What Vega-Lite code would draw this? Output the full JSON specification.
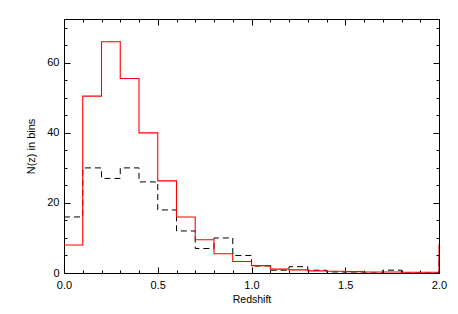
{
  "$schema": "https://vega.github.io/schema/vega-lite/v6.json",
  "width": 375,
  "height": 254,
  "autosize": "none",
  "padding": {"left": 64, "top": 19, "right": 19, "bottom": 41},
  "background": "white",
  "config": {
    "view": {"stroke": null},
    "axis": {
      "domainColor": "#000000",
      "domainWidth": 1,
      "tickColor": "#000000",
      "tickWidth": 1,
      "grid": false,
      "labelFont": "Liberation Sans",
      "titleFont": "Liberation Sans",
      "labelColor": "#000000",
      "titleColor": "#000000",
      "labelFontSize": 11,
      "titleFontSize": 10.5,
      "titleFontWeight": "normal",
      "labelFlush": false
    }
  },
  "data": {
    "values": [
      {"s": "red", "x": 0.0, "y": 8},
      {"s": "red", "x": 0.1, "y": 50.5},
      {"s": "red", "x": 0.2, "y": 66},
      {"s": "red", "x": 0.3, "y": 55.5},
      {"s": "red", "x": 0.4, "y": 40},
      {"s": "red", "x": 0.5, "y": 26.3},
      {"s": "red", "x": 0.6, "y": 16},
      {"s": "red", "x": 0.7, "y": 9.5},
      {"s": "red", "x": 0.8, "y": 5.5},
      {"s": "red", "x": 0.9, "y": 3.3},
      {"s": "red", "x": 1.0, "y": 2.1},
      {"s": "red", "x": 1.1, "y": 1.1},
      {"s": "red", "x": 1.2, "y": 0.9},
      {"s": "red", "x": 1.3, "y": 0.6},
      {"s": "red", "x": 1.4, "y": 0.5},
      {"s": "red", "x": 1.5, "y": 0.4},
      {"s": "red", "x": 1.6, "y": 0.3},
      {"s": "red", "x": 1.7, "y": 0.3},
      {"s": "red", "x": 1.8, "y": 0.2},
      {"s": "red", "x": 1.9, "y": 0.2},
      {"s": "red", "x": 2.0, "y": 8},
      {"s": "red", "x": 2.1, "y": 8},
      {"s": "black", "x": 0.0, "y": 16},
      {"s": "black", "x": 0.1, "y": 30},
      {"s": "black", "x": 0.2, "y": 27},
      {"s": "black", "x": 0.3, "y": 30},
      {"s": "black", "x": 0.4, "y": 26},
      {"s": "black", "x": 0.5, "y": 18},
      {"s": "black", "x": 0.6, "y": 12},
      {"s": "black", "x": 0.7, "y": 7},
      {"s": "black", "x": 0.8, "y": 10},
      {"s": "black", "x": 0.9, "y": 5},
      {"s": "black", "x": 1.0, "y": 2},
      {"s": "black", "x": 1.1, "y": 0.8},
      {"s": "black", "x": 1.2, "y": 1.8},
      {"s": "black", "x": 1.3, "y": 0.8},
      {"s": "black", "x": 1.4, "y": 0.3},
      {"s": "black", "x": 1.5, "y": 0},
      {"s": "black", "x": 1.6, "y": 0},
      {"s": "black", "x": 1.7, "y": 0.8},
      {"s": "black", "x": 1.8, "y": 0},
      {"s": "black", "x": 1.9, "y": 0},
      {"s": "black", "x": 2.0, "y": 5},
      {"s": "black", "x": 2.1, "y": 5}
    ]
  },
  "resolve": {"axis": {"x": "independent", "y": "independent"}},
  "layer": [
    {
      "transform": [{"filter": "datum.s === 'black'"}],
      "mark": {"type": "line", "interpolate": "step-after", "clip": true, "color": "#000000", "strokeWidth": 1, "strokeDash": [6, 4]},
      "encoding": {
        "x": {
          "field": "x", "type": "quantitative",
          "scale": {"domain": [0, 2], "nice": false, "zero": false},
          "axis": {
            "orient": "top", "title": null, "labels": false,
            "values": [0,0.1,0.2,0.3,0.4,0.5,0.6,0.7,0.8,0.9,1,1.1,1.2,1.3,1.4,1.5,1.6,1.7,1.8,1.9,2],
            "tickSize": {"condition": {"test": "abs(datum.value*2 - round(datum.value*2)) < 0.001", "value": -6}, "value": -3}
          }
        },
        "y": {
          "field": "y", "type": "quantitative",
          "scale": {"domain": [0, 72.5], "nice": false},
          "axis": {
            "orient": "right", "title": null, "labels": false,
            "values": [0,5,10,15,20,25,30,35,40,45,50,55,60,65,70],
            "tickSize": {"condition": {"test": "datum.value % 20 === 0", "value": -6}, "value": -3}
          }
        }
      }
    },
    {
      "transform": [{"filter": "datum.s === 'red'"}],
      "mark": {"type": "line", "interpolate": "step-after", "clip": true, "color": "#ff0000", "strokeWidth": 1.1},
      "encoding": {
        "x": {
          "field": "x", "type": "quantitative",
          "scale": {"domain": [0, 2], "nice": false, "zero": false},
          "axis": {
            "orient": "bottom", "title": "Redshift",
            "values": [0,0.1,0.2,0.3,0.4,0.5,0.6,0.7,0.8,0.9,1,1.1,1.2,1.3,1.4,1.5,1.6,1.7,1.8,1.9,2],
            "labelExpr": "abs(datum.value*2 - round(datum.value*2)) < 0.001 ? format(datum.value, '.1f') : ''",
            "labelPadding": 12,
            "titlePadding": 4,
            "tickSize": {"condition": {"test": "abs(datum.value*2 - round(datum.value*2)) < 0.001", "value": -6}, "value": -3}
          }
        },
        "y": {
          "field": "y", "type": "quantitative",
          "scale": {"domain": [0, 72.5], "nice": false},
          "axis": {
            "orient": "left", "title": "N(z)  in  bins",
            "titleFontSize": 11,
            "values": [0,5,10,15,20,25,30,35,40,45,50,55,60,65,70],
            "labelExpr": "datum.value % 20 === 0 ? datum.label : ''",
            "labelPadding": 11,
            "titlePadding": 10,
            "tickSize": {"condition": {"test": "datum.value % 20 === 0", "value": -6}, "value": -3}
          }
        }
      }
    }
  ]
}
